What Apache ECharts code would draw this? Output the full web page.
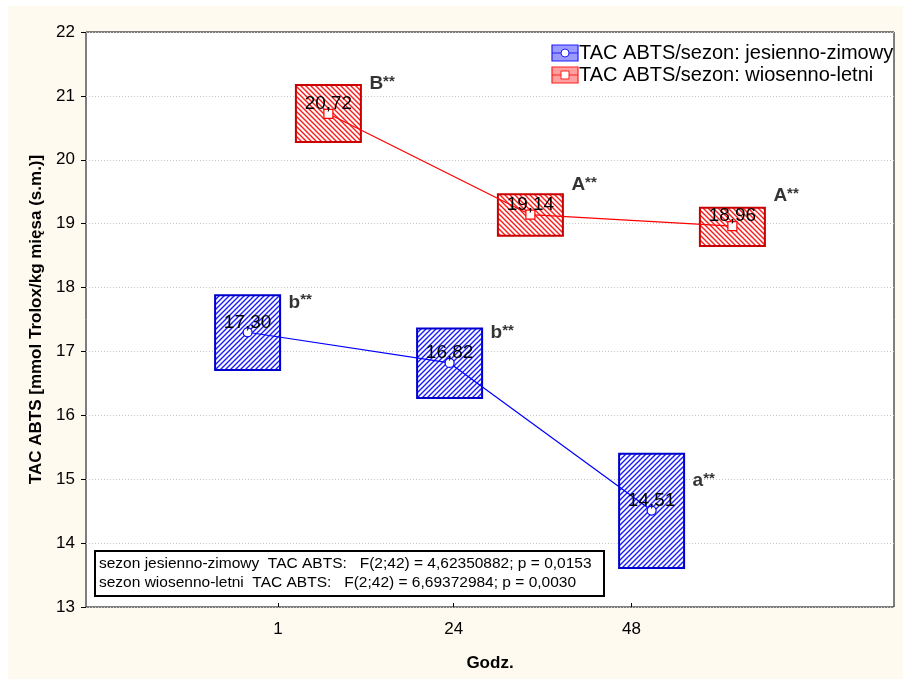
<!DOCTYPE html>
<html>
<head>
<meta charset="utf-8">
<script src="https://cdn.jsdelivr.net/npm/echarts@6/dist/echarts.min.js"></script>
<style>html,body{margin:0;padding:0;background:#fff;}#c{width:903px;height:679px;}</style>
</head>
<body>
<div id="c"></div>
<script>
// ---- data ----
const categories = ['1', '24', '48'];
const tickPositions = [-0.05, 0.82, 1.70];
const blueMean = [17.30, 16.82, 14.51];
const blueLow = [16.71, 16.27, 13.61];
const blueHigh = [17.88, 17.36, 15.40];
const redMean = [20.72, 19.14, 18.96];
const redLow = [20.28, 18.81, 18.65];
const redHigh = [21.17, 19.46, 19.25];
const blueLetters = ['b', 'b', 'a'];
const redLetters = ['B', 'A', 'A'];
const blueOffset = -0.2;
const redOffset = 0.2;
const blueName = 'TAC ABTS/sezon: jesienno-zimowy';
const redName = 'TAC ABTS/sezon: wiosenno-letni';
const statsLines = [
  'sezon jesienno-zimowy  TAC ABTS:   F(2;42) = 4,62350882; p = 0,0153',
  'sezon wiosenno-letni  TAC ABTS:   F(2;42) = 6,69372984; p = 0,0030'
];
const yTitle = 'TAC ABTS [mmol Trolox/kg mięsa (s.m.)]';
const xTitle = 'Godz.';

const FONT = "'Liberation Sans', Arial, sans-serif";

function hatch(color, dir) {
  const s = 5;
  const c = document.createElement('canvas');
  c.width = s; c.height = s;
  const g = c.getContext('2d');
  g.fillStyle = '#fff';
  g.fillRect(0, 0, s, s);
  g.strokeStyle = color;
  g.lineWidth = 1.4;
  g.beginPath();
  if (dir === '/') {
    g.moveTo(-1, s + 1); g.lineTo(s + 1, -1);
    g.moveTo(-1, 1); g.lineTo(1, -1);
    g.moveTo(s - 1, s + 1); g.lineTo(s + 1, s - 1);
  } else {
    g.moveTo(-1, -1); g.lineTo(s + 1, s + 1);
    g.moveTo(-1, s - 1); g.lineTo(1, s + 1);
    g.moveTo(s - 1, -1); g.lineTo(s + 1, 1);
  }
  g.stroke();
  return c;
}
const blueHatch = hatch('#1a1aff', '/');
const redHatch = hatch('#ff1a1a', '\\');

function fmt(v) { return v.toFixed(2).replace('.', ','); }

function pts(mean, off) { return mean.map((v, i) => [i + off, v]); }
function boxes(lo, hi, off) { return lo.map((v, i) => [i + off, v, hi[i]]); }

function boxSeries(name, data, pattern, stroke) {
  return {
    type: 'custom', name: name, z: 1,
    data: data,
    encode: { x: 0, y: [1, 2] },
    renderItem: function (params, api) {
      const top = api.coord([api.value(0), api.value(2)]);
      const bot = api.coord([api.value(0), api.value(1)]);
      const w = 65;
      return {
        type: 'rect',
        shape: { x: top[0] - w / 2, y: top[1], width: w, height: bot[1] - top[1] },
        style: { fill: { image: pattern, repeat: 'repeat' }, stroke: stroke, lineWidth: 2 }
      };
    },
    silent: true
  };
}

function lineSeries(name, data, color, symbol, size) {
  return {
    type: 'line', name: name, z: 3,
    data: data,
    symbol: symbol, symbolSize: size,
    lineStyle: { color: color, width: 1.2 },
    itemStyle: { color: '#fff', borderColor: color, borderWidth: 1.2 },
    label: {
      show: true, position: 'inside', offset: [0, -10],
      formatter: p => fmt(p.value[1]),
      color: '#000', fontSize: 19, fontFamily: FONT
    },
    animation: false
  };
}

function letterSeries(data, letters) {
  return {
    type: 'scatter', z: 4, symbolSize: 0,
    data: data,
    label: {
      show: true, position: [41, -30], align: 'left', verticalAlign: 'middle',
      formatter: p => '{l|' + letters[p.dataIndex] + '}{s|**}',
      rich: {
        l: { fontSize: 19, fontWeight: 'bold', fontFamily: FONT, color: '#000' },
        s: { fontSize: 15, fontWeight: 'bold', fontFamily: FONT, color: '#000', verticalAlign: 'top', padding: [0, 0, 3, 0] }
      }
    },
    animation: false
  };
}

function legendRow(cy, name, fillColor, stroke, line, markerShape) {
  return {
    type: 'group',
    children: [
      { type: 'rect', shape: { x: 552, y: cy - 8, width: 26, height: 16 }, style: { fill: fillColor, stroke: stroke, lineWidth: 1.2 } },
      { type: 'line', shape: { x1: 552, y1: cy, x2: 578, y2: cy }, style: { stroke: line, lineWidth: 1 } },
      markerShape,
      { type: 'text', x: 579, y: cy, style: { text: name, fontSize: 20, fontFamily: FONT, fill: '#000', verticalAlign: 'middle', align: 'left' } }
    ]
  };
}

const chart = echarts.init(document.getElementById('c'), null, { renderer: 'canvas' });
chart.setOption({
  backgroundColor: '#fff',
  animation: false,
  grid: { left: 86, top: 32, right: 9, bottom: 72, show: true, borderColor: '#000', borderWidth: 1, backgroundColor: '#fff', containLabel: false },
  xAxis: {
    type: 'value', min: -1, max: 3,
    axisLine: { show: false, onZero: false },
    axisTick: { show: true, inside: true, length: 4, lineStyle: { color: '#000' }, customValues: tickPositions },
    axisLabel: {
      show: true, customValues: tickPositions, margin: 14,
      formatter: v => { const i = tickPositions.indexOf(v); return i >= 0 ? categories[i] : ''; },
      color: '#000', fontSize: 17, fontFamily: FONT
    },
    splitLine: { show: false },
    name: xTitle, nameLocation: 'middle', nameGap: 48,
    nameTextStyle: { fontSize: 17, fontWeight: 'bold', fontFamily: FONT, color: '#000' }
  },
  yAxis: {
    type: 'value', min: 13, max: 22, interval: 1,
    axisLine: { show: false, onZero: false },
    axisTick: { show: true, inside: false, length: 5, lineStyle: { color: '#000' } },
    axisLabel: { margin: 11, color: '#000', fontSize: 17, fontFamily: FONT },
    splitLine: { show: true, lineStyle: { color: '#c8c8c8', type: [1, 2], width: 1 } },
    name: yTitle, nameLocation: 'middle', nameGap: 41, nameRotate: 90,
    nameTextStyle: { fontSize: 17, fontWeight: 'bold', fontFamily: FONT, color: '#000' }
  },
  graphic: [
    { type: 'rect', z: -10, shape: { x: 8, y: 6, width: 895, height: 673 }, style: { fill: '#fffaf0' }, silent: true },
    legendRow(53, blueName, '#9a9aff', '#2020ff', '#2020ff',
      { type: 'circle', shape: { cx: 565, cy: 53, r: 4 }, style: { fill: '#fff', stroke: '#2020ff', lineWidth: 1 } }),
    legendRow(75, redName, '#ffa0a0', '#ff2020', '#ff2020',
      { type: 'rect', shape: { x: 561, y: 71, width: 8, height: 8 }, style: { fill: '#fff', stroke: '#ff2020', lineWidth: 1 } }),
    { type: 'rect', z: 10, shape: { x: 95, y: 551, width: 509, height: 45 }, style: { fill: '#fff', stroke: '#000', lineWidth: 2 } },
    { type: 'text', z: 11, x: 99, y: 564, style: { text: statsLines[0], fontSize: 15.5, fontFamily: FONT, fill: '#000', verticalAlign: 'middle' } },
    { type: 'text', z: 11, x: 99, y: 583, style: { text: statsLines[1], fontSize: 15.5, fontFamily: FONT, fill: '#000', verticalAlign: 'middle' } }
  ],
  series: [
    boxSeries(blueName, boxes(blueLow, blueHigh, blueOffset), blueHatch, '#0000cc'),
    boxSeries(redName, boxes(redLow, redHigh, redOffset), redHatch, '#cc0000'),
    lineSeries(blueName, pts(blueMean, blueOffset), '#0000ff', 'circle', 9),
    lineSeries(redName, pts(redMean, redOffset), '#ff0000', 'rect', 9),
    letterSeries(pts(blueMean, blueOffset), blueLetters),
    letterSeries(pts(redMean, redOffset), redLetters)
  ]
});
</script>
</body>
</html>
